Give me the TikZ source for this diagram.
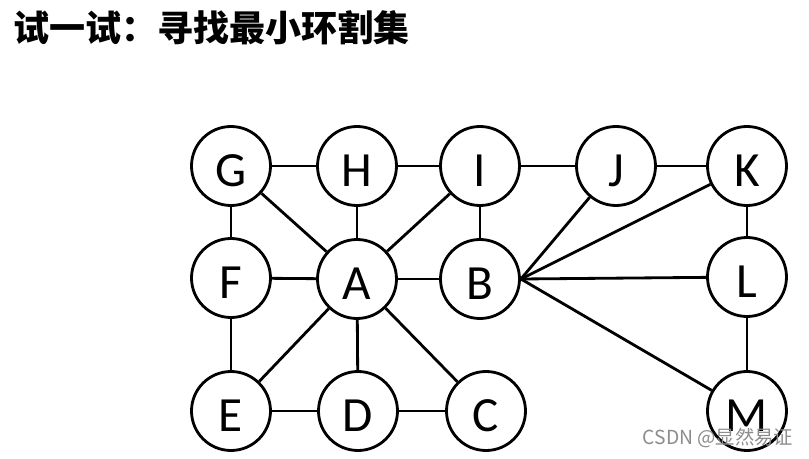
\documentclass[tikz,border=0pt]{standalone}
\usepackage{fontspec}
\setmainfont{Carlito}
\newfontfamily\cjk{Noto Sans CJK SC}
\usetikzlibrary{positioning}

\begin{document}
\begin{tikzpicture}[
    vertex/.style={draw, circle, line width=1.6pt, minimum size=1.58cm, inner sep=0pt,
        font=\fontsize{28}{28}\selectfont, text height=0.86cm, text depth=0.04cm},
    edge/.style={line width=1.6pt}]
    \useasboundingbox (0,0) rectangle (16.18,-9.18);
    \node[anchor=west, font=\cjk\bfseries\fontsize{20.5}{24}\selectfont] (title) at (0.14,-0.56) {试一试：寻找最小环割集};

    \node[vertex] (G) at (4.62,-3.32) {G};
    \node[vertex] (H) at (7.14,-3.32) {H};
    \node[vertex] (I) at (9.60,-3.32) {I};
    \node[vertex] (J) at (12.32,-3.32) {J};
    \node[vertex] (K) at (14.94,-3.32) {K};
    \node[vertex] (F) at (4.62,-5.56) {F};
    \node[vertex] (A) at (7.14,-5.58) {A};
    \node[vertex] (B) at (9.60,-5.58) {B};
    \node[vertex] (L) at (14.94,-5.54) {L};
    \node[vertex] (E) at (4.62,-8.22) {E};
    \node[vertex] (D) at (7.16,-8.22) {D};
    \node[vertex] (C) at (9.72,-8.22) {C};
    \node[vertex] (M) at (14.94,-8.22) {M};

    \foreach \a/\b in {G/H, H/I, I/J, J/K, G/F, F/E, E/D, D/C, I/B, K/L, L/M,
        A/G, A/H, A/I, A/F, A/B, A/E, A/D, A/C} {
        \draw[edge] (\a) -- (\b);
    }
    \foreach \b in {J,K,L,M} {
        \draw[edge] (B.east) -- (\b);
    }

    \node[font=\cjk\fontsize{11}{13}\selectfont, text=black!45] (mark) at (14.36,-8.76) {CSDN @显然易证};
\end{tikzpicture}
\end{document}
